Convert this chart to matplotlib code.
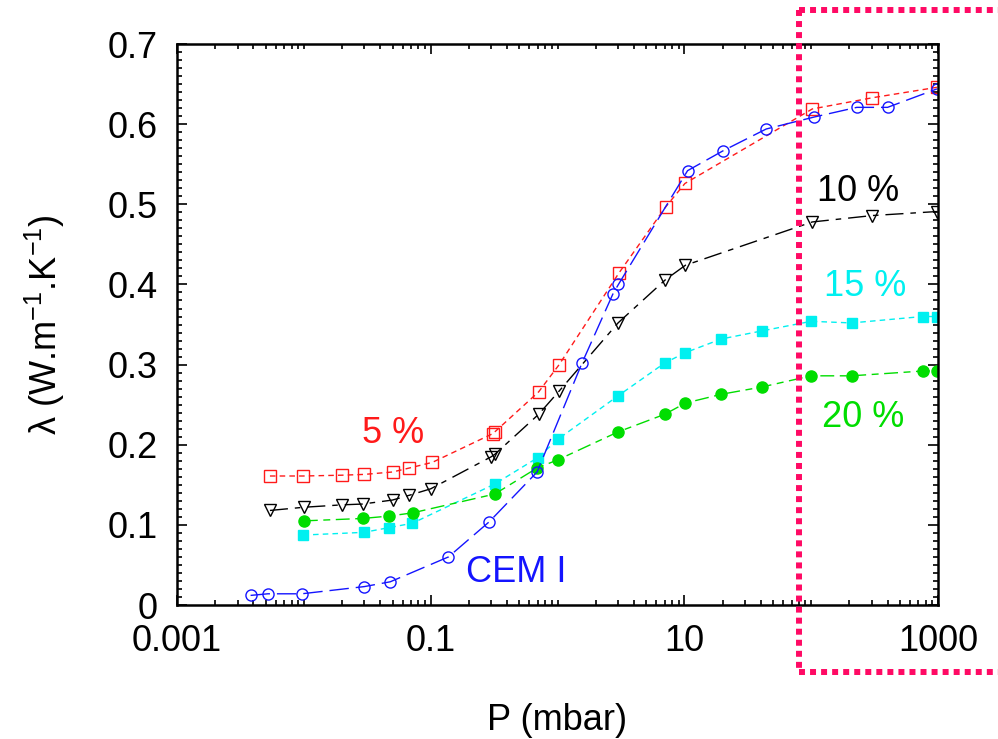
import numpy as np
import matplotlib
matplotlib.use("Agg")
import matplotlib.pyplot as plt
from matplotlib.lines import Line2D
from matplotlib.ticker import FixedLocator, NullFormatter

plt.rcParams['font.family'] = ['Liberation Sans', 'DejaVu Sans']
plt.rcParams['mathtext.fontset'] = 'custom'
plt.rcParams['mathtext.rm'] = 'Liberation Sans'
plt.rcParams['mathtext.it'] = 'Liberation Sans:italic'

# data: P (mbar), lambda (W/m/K)
p_cem = [0.0038, 0.0052, 0.0096, 0.030, 0.048, 0.138, 0.29, 0.69, 1.56, 2.73, 3.02,
         10.6, 20.3, 44.2, 106, 229, 400, 980]
l_cem = [0.012, 0.014, 0.014, 0.023, 0.029, 0.060, 0.104, 0.166, 0.302, 0.388, 0.400,
         0.542, 0.567, 0.594, 0.609, 0.621, 0.621, 0.644]

p_5 = [0.0054, 0.0099, 0.020, 0.030, 0.050, 0.068, 0.103, 0.31, 0.32, 0.71, 1.03,
       3.04, 7.14, 10.1, 102, 304, 980]
l_5 = [0.161, 0.161, 0.162, 0.163, 0.166, 0.171, 0.178, 0.214, 0.216, 0.266, 0.300,
       0.414, 0.497, 0.526, 0.619, 0.633, 0.646]

p_10 = [0.0054, 0.010, 0.020, 0.029, 0.050, 0.068, 0.10, 0.30, 0.32, 0.71, 1.03,
        3.0, 7.1, 10.2, 102, 304, 980]
l_10 = [0.118, 0.122, 0.125, 0.126, 0.131, 0.137, 0.145, 0.185, 0.188, 0.238, 0.267,
        0.352, 0.406, 0.424, 0.478, 0.486, 0.491]

p_15 = [0.0099, 0.0298, 0.0466, 0.0717, 0.32, 0.70, 1.01, 3.0, 7.0, 10.2, 19.6,
        40.7, 100, 208, 757, 980]
l_15 = [0.0873, 0.0907, 0.0965, 0.102, 0.151, 0.184, 0.207, 0.261, 0.302, 0.315, 0.332,
        0.342, 0.354, 0.352, 0.360, 0.360]

p_20 = [0.010, 0.029, 0.047, 0.072, 0.32, 0.69, 1.0, 3.0, 7.0, 10.2, 19.6,
        40.7, 100, 208, 757, 980]
l_20 = [0.105, 0.108, 0.111, 0.115, 0.1385, 0.171, 0.181, 0.216, 0.238, 0.252, 0.263,
        0.272, 0.286, 0.286, 0.292, 0.292]

fig = plt.figure(figsize=(9.98, 7.39), dpi=100)
ax = fig.add_axes([0.1774, 0.1813, 0.7625, 0.7591])

ax.plot(p_5, l_5, color='#ff1a1a', lw=1.0, dashes=(4, 3), marker='s', ms=9,
        mfc='none', mec='#ff1a1a', mew=1.0)
ax.plot(p_10, l_10, color='black', lw=1.0, dashes=(13, 5, 4, 5), marker='v', ms=9,
        mfc='none', mec='black', mew=1.0)
ax.plot(p_15, l_15, color='#00f0f0', lw=1.0, dashes=(4, 3), marker='s', ms=7.5,
        mfc='#00f0f0', mec='#00f0f0')
ax.plot(p_20, l_20, color='#00dd00', lw=1.0, dashes=(10, 4, 5, 4), marker='o', ms=8,
        mfc='#00dd00', mec='#00dd00')
ax.plot(p_cem, l_cem, color='#1414ff', lw=1.0, dashes=(14, 5), marker='o', ms=8,
        mfc='none', mec='#1414ff', mew=1.0)

ax.set_xscale('log')
ax.set_xlim(0.001, 1000)
ax.set_ylim(0, 0.7)

major_x = [0.001, 0.1, 10, 1000]
minor_x = [m * 10.0 ** e for e in range(-3, 3) for m in range(1, 10)
           if not (m == 1 and 10.0 ** e in major_x)]
ax.xaxis.set_major_locator(FixedLocator(major_x))
ax.set_xticklabels(['0.001', '0.1', '10', '1000'])
ax.xaxis.set_minor_locator(FixedLocator(minor_x))
ax.xaxis.set_minor_formatter(NullFormatter())

ax.set_yticks(np.arange(0, 0.71, 0.1))
ax.set_yticklabels(['0', '0.1', '0.2', '0.3', '0.4', '0.5', '0.6', '0.7'])
ax.yaxis.set_minor_locator(FixedLocator(np.arange(0, 0.701, 0.01)))

ax.tick_params(which='both', direction='in', top=True, right=True, width=1.2,
               labelsize=26)
ax.tick_params(which='major', length=7, pad=14)
ax.tick_params(which='minor', length=3.5)
for s in ax.spines.values():
    s.set_linewidth(1.8)

ax.set_xlabel('P (mbar)', fontsize=26)
ax.xaxis.set_label_coords(0.5, -0.175)
ax.xaxis.label.set_va('top')
ax.set_ylabel(r'λ (W.m$^{\mathregular{-1}}$.K$^{\mathregular{-1}}$)', fontsize=26)
ax.yaxis.set_label_coords(-0.145, 0.5)

ax.text(0.0505, 0.2146, '5 %', color='#ff1a1a', fontsize=26, ha='center', va='center')
ax.text(235, 0.5166, '10 %', color='black', fontsize=26, ha='center', va='center')
ax.text(267, 0.397, '15 %', color='#00f0f0', fontsize=26, ha='center', va='center')
ax.text(257, 0.2346, '20 %', color='#00dd00', fontsize=26, ha='center', va='center')
ax.text(0.471, 0.0412, 'CEM I', color='#1414ff', fontsize=26, ha='center', va='center')

# dotted highlight frame
box_col = '#ff0a64'
kw = dict(transform=fig.transFigure, color=box_col, lw=4.3, dashes=(1, 0.85),
          solid_capstyle='butt', dash_capstyle='butt', clip_on=False)
fig.add_artist(Line2D([0.8006, 0.8006], [0.9865, 0.091], **kw))
fig.add_artist(Line2D([0.8006, 1.0], [0.9865, 0.9865], **kw))
fig.add_artist(Line2D([0.8006, 1.0], [0.091, 0.091], **kw))

fig.savefig('out.png', dpi=100)
